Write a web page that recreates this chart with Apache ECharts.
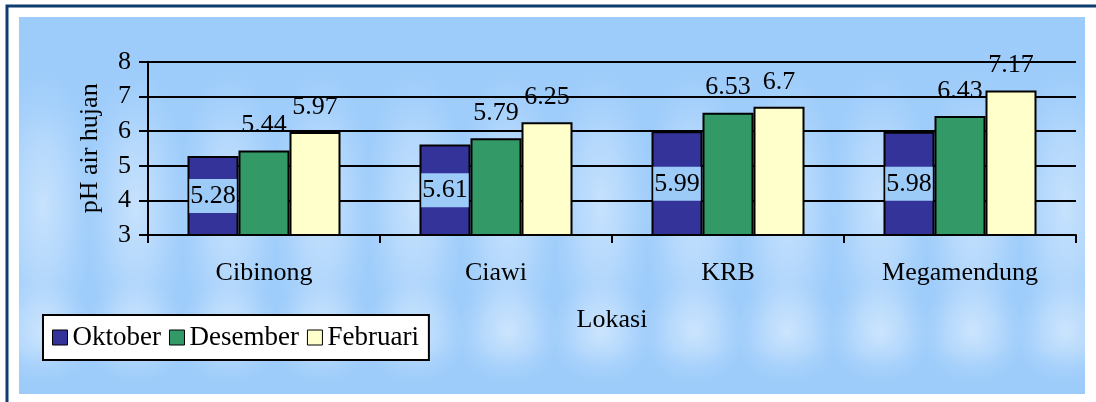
<!DOCTYPE html>
<html>
<head>
<meta charset="utf-8">
<script src="https://cdn.jsdelivr.net/npm/echarts@6/dist/echarts.min.js"></script>
<style>
html,body{margin:0;padding:0;background:#fff;}
#chart{width:1096px;height:402px;}
</style>
</head>
<body>
<div id="chart"></div>
<script>
const categories = ['Cibinong', 'Ciawi', 'KRB', 'Megamendung'];
const oktober = [5.28, 5.61, 5.99, 5.98];
const desember = [5.44, 5.79, 6.53, 6.43];
const februari = [5.97, 6.25, 6.7, 7.17];
const seriesNames = ['Oktober', 'Desember', 'Februari'];

// background texture (style only)
function makeBg(w, h) {
  const c = document.createElement('canvas');
  c.width = w; c.height = h;
  const g = c.getContext('2d');
  g.fillStyle = '#9fcdfb';
  g.fillRect(0, 0, w, h);
  const period = 93;
  for (let cx = 24; cx < w + period; cx += period) {
    [[190, 140, 0.55], [315, 55, 0.6]].forEach(([cy, ry, a]) => {
      g.save();
      g.translate(cx, cy);
      g.scale(1, ry / 50);
      const rg = g.createRadialGradient(0, 0, 0, 0, 0, 50);
      rg.addColorStop(0, 'rgba(232,243,255,' + a + ')');
      rg.addColorStop(0.5, 'rgba(222,238,254,' + (a * 0.6) + ')');
      rg.addColorStop(1, 'rgba(200,226,253,0)');
      g.fillStyle = rg;
      g.fillRect(-50, -50, 100, 100);
      g.restore();
    });
  }
  const vg = g.createLinearGradient(0, 0, 0, h);
  vg.addColorStop(0, 'rgba(157,204,250,0.95)');
  vg.addColorStop(0.12, 'rgba(157,204,250,0.5)');
  vg.addColorStop(0.3, 'rgba(157,204,250,0)');
  vg.addColorStop(0.88, 'rgba(157,204,250,0)');
  vg.addColorStop(1, 'rgba(157,204,250,0.85)');
  g.fillStyle = vg;
  g.fillRect(0, 0, w, h);
  return c;
}

const FONT = '"Liberation Serif", "Times New Roman", serif';
const FS = 26;
const chart = echarts.init(document.getElementById('chart'));
const bgW = 1066, bgH = 377;

const labelTop = {
  show: true, position: 'top', distance: 12,
  fontFamily: FONT, fontSize: FS, color: '#000'
};

chart.setOption({
  backgroundColor: '#fff',
  animation: false,
  graphic: [
    { type: 'rect', z: -10, shape: { x: 7, y: 6, width: 1100, height: 410 },
      style: { fill: '#fff', stroke: '#0f3c6e', lineWidth: 3 } },
    { type: 'image', z: -9, x: 19, y: 17,
      style: { image: makeBg(bgW, bgH), x: 0, y: 0, width: bgW, height: bgH } }
  ],
  grid: { left: 148, right: 20, top: 61.7, bottom: 167, containLabel: false },
  legend: {
    data: seriesNames,
    left: 43, top: 315,
    orient: 'horizontal',
    backgroundColor: '#fff',
    borderColor: '#000', borderWidth: 2,
    padding: [9, 10, 9, 9],
    itemGap: 8,
    itemWidth: 15, itemHeight: 15,
    icon: 'rect',
    itemStyle: { borderColor: '#000', borderWidth: 1 },
    textStyle: { fontFamily: FONT, fontSize: 27, color: '#000' }
  },
  xAxis: {
    type: 'category',
    data: categories,
    name: 'Lokasi',
    nameLocation: 'middle',
    nameGap: 72,
    nameTextStyle: { fontFamily: FONT, fontSize: FS, color: '#000' },
    axisLine: { lineStyle: { color: '#000', width: 2 } },
    axisTick: { show: true, length: 8, lineStyle: { color: '#000', width: 2 } },
    axisLabel: { fontFamily: FONT, fontSize: FS, color: '#000', margin: 25 },
    splitLine: { show: false }
  },
  yAxis: {
    type: 'value',
    min: 3, max: 8, interval: 1,
    name: 'pH air hujan',
    nameLocation: 'middle',
    nameGap: 45,
    nameRotate: 90,
    nameTextStyle: { fontFamily: FONT, fontSize: FS, color: '#000' },
    axisLine: { show: true, lineStyle: { color: '#000', width: 2 } },
    axisTick: { show: true, length: 9, lineStyle: { color: '#000', width: 2 } },
    axisLabel: { fontFamily: FONT, fontSize: FS, color: '#000', margin: 17 },
    splitLine: { show: true, lineStyle: { color: '#000', width: 2 } }
  },
  series: [
    {
      name: seriesNames[0], type: 'bar', data: oktober,
      barWidth: 51, barGap: '0%',
      itemStyle: { color: '#333399', borderColor: '#000', borderWidth: 2 },
      label: {
        show: true, position: 'inside',
        fontFamily: FONT, fontSize: FS, color: '#000',
        backgroundColor: '#9dcbf8', padding: [4, 1, 4, 1], lineHeight: 26
      }
    },
    {
      name: seriesNames[1], type: 'bar', data: desember,
      barWidth: 51, barGap: '0%',
      itemStyle: { color: '#339966', borderColor: '#000', borderWidth: 2 },
      label: labelTop
    },
    {
      name: seriesNames[2], type: 'bar', data: februari,
      barWidth: 51, barGap: '0%',
      itemStyle: { color: '#ffffcc', borderColor: '#000', borderWidth: 2 },
      label: labelTop
    }
  ]
});
</script>
</body>
</html>
